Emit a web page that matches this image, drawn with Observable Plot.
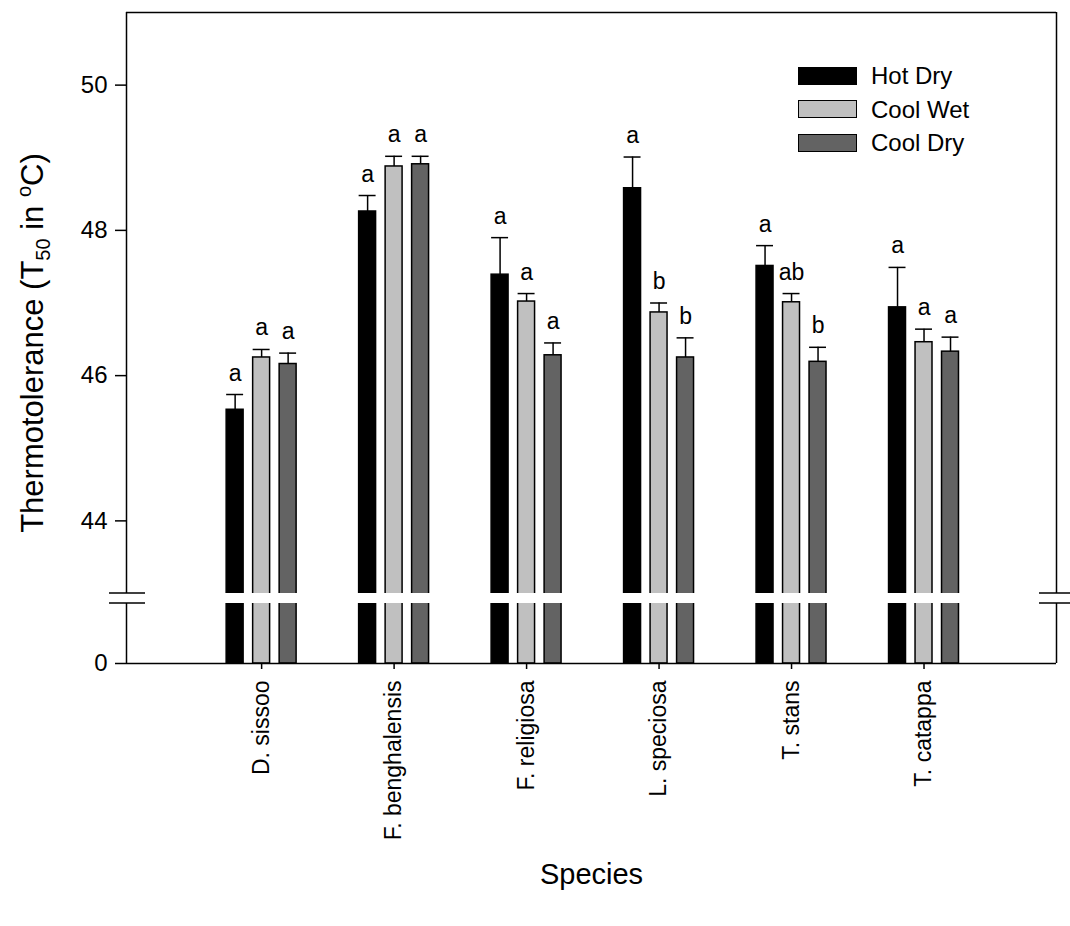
<!DOCTYPE html>
<html>
<head>
<meta charset="utf-8">
<script src="https://cdn.jsdelivr.net/npm/d3@7"></script>
<script src="https://cdn.jsdelivr.net/npm/@observablehq/plot@0.6"></script>
<style>
  body { margin: 0; background: #fff; }
  #chart { position: relative; width: 1070px; height: 926px; font-family: "Liberation Sans", Arial, sans-serif; color: #000; }
  #chart svg { display: block; }
  .legend { position: absolute; left: 798px; top: 66px; }
  .legend .row { display: flex; align-items: center; height: 19px; margin-bottom: 14.5px; }
  .legend .sw { width: 57px; height: 16px; border: 1.5px solid #000; margin-right: 14px; }
  .legend .lab { font-size: 24px; line-height: 19px; }
</style>
</head>
<body>
<div id="chart"></div>
<script>
// Species and treatments
const species = ["D. sissoo", "F. benghalensis", "F. religiosa", "L. speciosa", "T. stans", "T. catappa"];
const treatments = ["Hot Dry", "Cool Wet", "Cool Dry"];
const treatmentColors = ["#000000", "#c0c0c0", "#636363"];

// Mean T50 (°C) per species, and standard errors
const hotDry     = [45.53, 48.26, 47.39, 48.58, 47.51, 46.94];
const hotDryErr  = [0.21, 0.22, 0.51, 0.43, 0.28, 0.55];
const coolWet    = [46.25, 48.88, 47.02, 46.87, 47.01, 46.46];
const coolWetErr = [0.11, 0.14, 0.11, 0.13, 0.12, 0.18];
const coolDry    = [46.16, 48.91, 46.28, 46.25, 46.19, 46.33];
const coolDryErr = [0.15, 0.11, 0.17, 0.27, 0.20, 0.20];

// Significance letters
const hotDryLetters  = ["a", "a", "a", "a", "a", "a"];
const coolWetLetters = ["a", "a", "a", "b", "ab", "a"];
const coolDryLetters = ["a", "a", "a", "b", "b", "a"];

// Y axis ticks and the broken-axis segments
const yTicks = [0, 44, 46, 48, 50];
const breakLow = 42.9, breakHigh = 43, yTop = 51;

// Broken axis: 0..breakLow is squeezed into a short stub, breakHigh..yTop is linear
const brk = d3.scaleLinear().domain([0, breakLow, breakHigh, yTop]).range([0, 60, 70, 651]);

// Bar layout within a species group (x units)
const xMin = -0.02, xMax = 7;
const barStep = 0.2, barHalf = 0.064;

const series = [
  [hotDry, hotDryErr, hotDryLetters],
  [coolWet, coolWetErr, coolWetLetters],
  [coolDry, coolDryErr, coolDryLetters]
];
const rows = [];
species.forEach((s, i) => {
  series.forEach(([vals, errs, lets], j) => {
    rows.push({
      species: s,
      treatment: treatments[j],
      pos: i + 1 + (j - 1) * barStep,
      value: vals[i],
      err: errs[i],
      top: vals[i] + errs[i],
      letter: lets[i]
    });
  });
});

const W = 1070, H = 926;

const plot = Plot.plot({
  width: W,
  height: H,
  marginLeft: 126,
  marginRight: 14,
  marginTop: 12,
  marginBottom: 263,
  style: { fontFamily: "'Liberation Sans', Arial, sans-serif", fontSize: "24px", color: "#000", background: "white", overflow: "visible" },
  x: {
    domain: [xMin, xMax],
    ticks: species.map((d, i) => i + 1),
    tickFormat: i => species[i - 1],
    tickRotate: -90,
    tickSize: 6,
    tickPadding: 11,
    label: null
  },
  y: {
    domain: [brk(0), brk(yTop)],
    ticks: yTicks.map(brk),
    tickFormat: u => String(Math.round(brk.invert(u))),
    tickSize: 11,
    tickPadding: 8,
    label: null
  },
  color: { domain: treatments, range: treatmentColors },
  marks: [
    // bars
    Plot.rect(rows, {
      x1: d => d.pos - barHalf, x2: d => d.pos + barHalf,
      y1: () => brk(0), y2: d => brk(d.value),
      fill: "treatment", stroke: "#000", strokeWidth: 1.5
    }),
    // axis break gap
    Plot.rect([0], { x1: xMin, x2: xMax, y1: () => brk(breakLow), y2: () => brk(breakHigh), fill: "white" }),
    // error whiskers and caps
    Plot.ruleX(rows, { x: "pos", y1: d => brk(d.value), y2: d => brk(d.top), stroke: "#000", strokeWidth: 1.5 }),
    Plot.ruleY(rows, { y: d => brk(d.top), x1: d => d.pos - barHalf, x2: d => d.pos + barHalf, stroke: "#000", strokeWidth: 1.5 }),
    // letters
    Plot.text(rows, { x: "pos", y: d => brk(d.top), text: "letter", dy: -14, lineAnchor: "bottom", fontSize: 23 }),
    // frame
    Plot.ruleY([0, yTop], { y: v => brk(v), stroke: "#000", strokeWidth: 1.5 }),
    Plot.ruleX(
      [[xMin, 0, breakLow], [xMin, breakHigh, yTop], [xMax, 0, breakLow], [xMax, breakHigh, yTop]],
      { x: d => d[0], y1: d => brk(d[1]), y2: d => brk(d[2]), stroke: "#000", strokeWidth: 1.5 }
    ),
    // x title
    Plot.text(["Species"], { frameAnchor: "bottom", dy: 220, fontSize: 29 })
  ]
});

const svg = d3.select(plot);
svg.selectAll("g[aria-label^='x-axis'] text").attr("font-size", 23);
svg.selectAll("g[aria-label$='axis'] path, g[aria-label*='tick'] path").attr("stroke-width", 1.5);

// break marks on both sides of the frame
const sx = plot.scale("x"), sy = plot.scale("y");
const gBreak = svg.append("g").attr("stroke", "#000").attr("stroke-width", 1.5);
[sx.apply(xMin), sx.apply(xMax)].forEach(px => {
  [breakLow, breakHigh].forEach(v => {
    const py = sy.apply(brk(v));
    gBreak.append("line").attr("x1", px - 17).attr("x2", px + 19).attr("y1", py).attr("y2", py);
  });
});

// y title with subscript and superscript
const yt = svg.append("text")
  .attr("transform", "translate(43,343) rotate(-90)")
  .attr("text-anchor", "middle")
  .attr("font-size", 31)
  .attr("fill", "#000");
yt.append("tspan").text("Thermotolerance (T");
yt.append("tspan").attr("font-size", 20).attr("dy", 7).text("50");
yt.append("tspan").attr("dy", -7).text(" in ");
yt.append("tspan").attr("font-size", 20).attr("dy", -12).text("o");
yt.append("tspan").attr("dy", 12).text("C)");

const chart = document.getElementById("chart");
chart.appendChild(plot);

// legend
const legend = document.createElement("div");
legend.className = "legend";
treatments.forEach((t, i) => {
  const row = document.createElement("div");
  row.className = "row";
  const sw = document.createElement("div");
  sw.className = "sw";
  sw.style.background = treatmentColors[i];
  const lab = document.createElement("span");
  lab.className = "lab";
  lab.textContent = t;
  row.appendChild(sw);
  row.appendChild(lab);
  legend.appendChild(row);
});
chart.appendChild(legend);
</script>
</body>
</html>
